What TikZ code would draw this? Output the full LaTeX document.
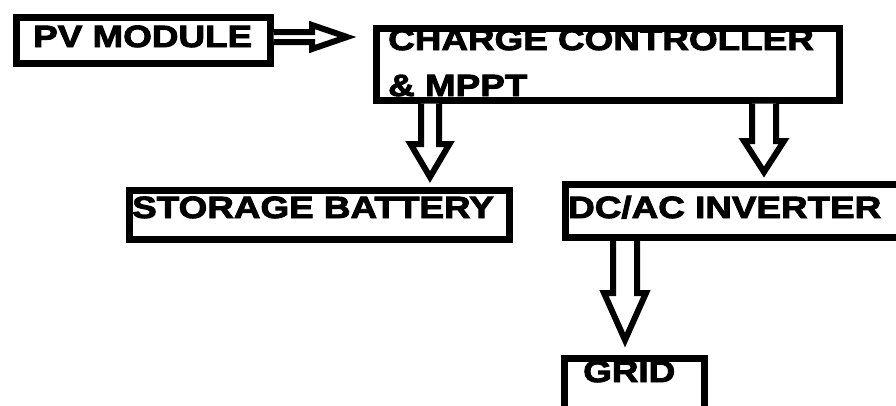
\documentclass[tikz,border=0pt]{standalone}
\usepackage{fontspec}
\newfontfamily\lab{Liberation Sans}[FakeStretch=1.2, BoldFeatures={FakeBold=3}]
\usetikzlibrary{calc}
\tikzset{
  box/.style={draw, line width=7pt, inner sep=0pt, anchor=north west},
  lbl/.style={font=\lab\bfseries\fontsize{30.7}{36}\selectfont, inner sep=0pt, anchor=base west},
  hollow/.style={draw, line width=6pt, line join=miter, fill=white}
}
% #1 start, #2 tip, #3 shaft half width, #4 head half width, #5 head length
\newcommand\vhollow[5]{%
  \draw[hollow] ($(#1)+(-#3,0)$) -- ($(#2)+(-#3,-#5)$) -- ($(#2)+(-#4,-#5)$) -- (#2)
    -- ($(#2)+(#4,-#5)$) -- ($(#2)+(#3,-#5)$) -- ($(#1)+(#3,0)$);}
\newcommand\hhollow[5]{%
  \draw[hollow] ($(#1)+(0,-#3)$) -- ($(#2)+(-#5,-#3)$) -- ($(#2)+(-#5,-#4)$) -- (#2)
    -- ($(#2)+(-#5,#4)$) -- ($(#2)+(-#5,#3)$) -- ($(#1)+(0,#3)$);}
\begin{document}
\begin{tikzpicture}[x=1pt,y=-1pt]
\useasboundingbox (0,0) rectangle (896,405);
\clip (0,0) rectangle (896,405);
% texts
\node[lbl] (tpv) at (33,47) {PV MODULE};
\node[lbl] (tcc1) at (388,50) {CHARGE CONTROLLER};
\node[lbl] (tcc2) at (388,96) {\& MPPT};
\node[lbl] (tsb) at (132,218) {STORAGE BATTERY};
\node[lbl] (tinv) at (568,218) {DC/AC INVERTER};
\node[lbl] (tgrid) at (583,382) {GRID};
% boxes
\node[box, minimum width=254pt, minimum height=46pt] (pv) at (12.5,13.5) {};
\node[box, minimum width=463pt, minimum height=72pt] (cc) at (372.5,24.5) {};
\node[box, minimum width=380pt, minimum height=49pt] (sb) at (125.5,186.5) {};
\node[box, minimum width=360pt, minimum height=53pt] (inv) at (561.5,181) {};
\node[box, minimum width=140pt, minimum height=80pt] (grid) at (560.5,354.5) {};
% arrow tips
\coordinate (t1) at (347,37);
\coordinate (t2) at (430,177);
\coordinate (t3) at (764,172);
\coordinate (t4) at (625,340);
% connectors
\hhollow{pv.east |- t1}{t1}{5}{12}{35}
\vhollow{cc.south -| t2}{t2}{9}{19.5}{33}
\vhollow{cc.south -| t3}{t3}{12}{20}{31}
\vhollow{inv.south -| t4}{t4}{12}{21}{47}
\end{tikzpicture}
\end{document}
